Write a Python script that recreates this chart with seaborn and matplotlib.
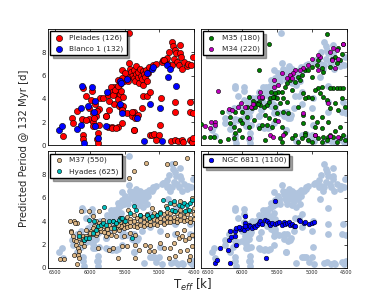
import seaborn as sns
import matplotlib
matplotlib.use('Agg')
import matplotlib.pyplot as plt

# ---- data (Teff [K], predicted period [d]) ----
pleiades_teff = [6390, 6255, 6245, 6185, 6110, 6100, 6100, 6100, 6055, 6005,
                 6005, 5980, 5970, 5955, 5950, 5920, 5910, 5900, 5885, 5870,
                 5860, 5885, 5805, 5765, 5740, 5740, 5680, 5645, 5655, 5620,
                 5600, 5580, 6057, 5938, 5948, 5895, 5870, 5765, 5731, 5700,
                 5680, 5660, 5720, 5640, 5600, 5570, 5550, 5539, 5429, 5443,
                 5683, 5630, 5467, 5371, 5395, 5360, 5539, 5539,
                 5420, 5400, 5390, 5370, 5360, 5350, 5340, 5330, 5310, 5300,
                 5290, 5280, 5270, 5255, 5240, 5230, 5220, 5200, 5190, 5170,
                 5160, 5150, 5470, 5490, 5510, 5530, 5560, 5590, 5600, 5450,
                 5525, 5525, 5530, 5395, 5345, 5250, 5300, 5235, 5180, 5140,
                 4975, 4770, 4770, 4565, 4555, 4985, 5370, 5140, 5110, 5080,
                 5000, 5045, 4830, 4780, 4730, 4680, 4665, 4560, 4530, 4510,
                 5085, 5050, 4965, 4950, 4890, 4860, 4820, 4800, 4780, 4760,
                 4790, 4740, 4720, 4700, 4680, 4640, 4600, 4580, 4870, 4820,
                 4700, 4690, 4515, 4537, 4930, 4510]
pleiades_period = [0.83, 2.40, 1.95, 2.95, 2.30, 4.95, 0.90, 0.55, 4.27, 3.20,
                   2.30, 3.90, 4.65, 2.75, 2.05, 3.60, 2.50, 0.55, 1.05, 3.10,
                   4.05, 0.20, 4.05, 2.55, 1.60, 4.35, 1.60, 3.60, 5.00, 4.45,
                   1.60, 3.35, 2.22, 2.37, 1.71, 2.94, 1.80, 2.56, 3.08, 5.00,
                   4.60, 4.30, 3.85, 4.80, 4.00, 4.40, 4.70, 6.50, 7.07, 9.63,
                   1.50, 1.50, 2.80, 1.37, 2.50, 2.90, 1.94, 3.20,
                   6.60, 6.30, 6.00, 5.80, 6.50, 5.50, 6.10, 6.80, 5.90, 6.30,
                   5.40, 6.60, 6.00, 5.70, 6.40, 5.20, 6.10, 5.90, 6.50, 5.50,
                   6.20, 6.70, 5.90, 6.20, 5.50, 5.80, 5.30, 5.60, 5.10, 5.50,
                   4.20, 3.35, 3.05, 2.90, 2.35, 3.20, 2.60, 4.25, 4.27, 4.60,
                   4.05, 2.90, 3.75, 2.90, 3.75, 1.75, 1.35, 0.90, 0.90, 0.95,
                   0.90, 0.50, 0.40, 0.50, 0.35, 0.45, 0.30, 0.50, 0.30, 0.60,
                   6.90, 7.00, 7.20, 7.30, 7.50, 8.00, 8.90, 8.50, 8.20, 7.90,
                   7.40, 7.20, 6.90, 8.60, 6.60, 7.20, 6.80, 7.00, 7.00, 6.90,
                   7.90, 7.60, 7.60, 6.90, 7.30, 2.80]

blanco_teff = [6440, 6400, 6180, 6125, 6130, 6090, 6030, 5970, 5935, 5920,
               5885, 5765, 5755, 5565, 5565, 5555, 5470, 5180, 5105, 5085,
               4890, 4845, 4880, 4760, 5140, 4990, 5320, 5540, 5225, 4965,
               6110, 5923]
blanco_period = [1.35, 1.70, 1.40, 3.20, 1.80, 0.20, 3.40, 5.05, 2.90, 1.70,
                 0.60, 1.70, 4.55, 5.50, 3.60, 5.40, 5.70, 6.20, 6.60, 6.75,
                 6.90, 6.60, 5.90, 5.10, 3.55, 3.20, 2.40, 2.75, 0.40, 0.35,
                 5.10, 3.79]

m35_teff = [5610, 5755, 6600, 6555, 6460, 6400, 6315, 6205, 6290, 6172,
            6172, 6124, 6110, 6053, 6029, 6005, 5933, 5899, 5837, 5765,
            5717, 5669, 5645, 5621, 5573, 5669, 6110, 6005, 5933, 5861,
            5813, 5789, 5765, 5741, 5717, 5693, 5645, 5621, 5597, 5549,
            5583, 5909, 5851, 5775, 6005, 6124,
            4786, 4546, 4618, 4570, 4666, 4594, 4642, 4714, 4738, 4834,
            4858, 4906, 4930, 5002, 5098, 5146, 5050, 5002, 5194, 5242,
            5314, 5362, 5386, 5434, 5482, 5530, 5506, 5554, 5410, 5458,
            5362, 5290, 5170, 4690, 4642, 4594, 4546, 4738, 4858, 4906,
            4882, 4954, 5002, 5050, 5122, 5098, 4834, 4786, 4738, 4666,
            4618, 4570, 4522, 5530, 5506, 5410, 5338, 5194, 5122, 5002,
            4930, 4858, 4762, 5530, 5434, 5386, 5458, 5434, 5122, 5098,
            4954, 4858, 4762, 4666, 4594, 5242, 5194, 5098, 5050, 4954,
            4906, 4834, 4786, 4738, 4690, 4642, 4594, 4546, 4522, 5146,
            5002, 4858, 5290]
m35_period = [8.70, 6.50, 1.85, 0.75, 0.75, 0.75, 0.35, 0.55, 2.90, 2.48,
              1.91, 1.62, 1.05, 1.34, 2.19, 1.91, 2.48, 1.62, 2.19, 1.48,
              1.77, 2.62, 1.77, 2.34, 1.62, 0.48, 2.90, 2.90, 3.33, 3.19,
              3.33, 3.62, 3.76, 3.48, 4.05, 3.33, 3.48, 3.76, 4.05, 4.19,
              4.62, 4.19, 3.85, 3.56, 0.77, 0.63,
              9.60, 8.74, 8.32, 7.89, 7.60, 7.32, 7.04, 7.46, 6.75, 6.32,
              6.61, 7.32, 6.89, 6.75, 6.46, 6.04, 6.46, 5.90, 5.90, 5.47,
              5.61, 5.33, 5.04, 4.62, 4.62, 4.47, 4.05, 4.19, 4.05, 3.62,
              3.76, 4.76, 5.61, 4.96, 4.96, 4.90, 4.96, 4.96, 5.04, 4.90,
              4.47, 4.76, 4.05, 4.19, 4.47, 4.05, 4.19, 3.90, 3.19, 3.62,
              3.05, 4.05, 3.33, 3.33, 2.76, 2.90, 2.76, 3.33, 2.62, 2.48,
              2.05, 2.48, 2.05, 2.19, 1.62, 1.05, 0.63, 0.34, 1.91, 1.05,
              1.62, 1.48, 0.77, 1.20, 1.62, 0.91, 0.34, 0.91, 0.48, 0.91,
              0.63, 0.77, 0.48, 0.91, 0.77, 0.34, 0.63, 0.91, 0.48, 0.60,
              0.30, 0.30, 0.60]

m34_teff = [6355, 6533, 6446, 6398, 6461, 6389, 6197, 6149, 6062, 6014,
            5957, 5870, 5851, 5765, 5741, 5717, 5909, 5597,
            4546, 4738, 4642, 4690, 4714, 4618, 4882, 4906, 5002, 5050,
            5122, 5170, 5242, 5266, 5314, 5362, 5290, 5434, 5540, 5540,
            5482, 4666, 4906, 4762, 5482, 4954, 4738, 5554, 5410, 4618,
            5122]
m34_period = [4.70, 1.68, 2.05, 2.05, 1.48, 1.77, 3.10, 3.05, 3.33, 3.67,
              3.33, 3.28, 3.56, 4.13, 4.62, 4.19, 0.63, 0.91,
              8.69, 8.03, 8.18, 8.32, 7.32, 7.46, 7.60, 7.75, 7.46, 6.89,
              6.61, 6.46, 6.46, 6.18, 6.04, 5.75, 5.75, 6.18, 5.61, 5.04,
              5.19, 6.61, 6.46, 3.62, 2.14, 0.91, 0.83, 0.77, 0.91, 0.77,
              2.76]

m37_teff = [6427, 6365, 6269, 6221, 6182, 6245, 6221, 6197, 6173, 6149,
            6173, 6125, 6101, 6077, 6149, 6029, 6005, 6221, 6187, 6149,
            6125, 6005, 5957, 5909, 5933, 5885, 5861, 5837, 5813, 5789,
            5765, 5717, 5669, 5621, 5597, 5573, 5765, 5693, 5621, 5861,
            5885, 5717, 5597, 5669, 6053, 5981, 5957, 5837, 5741, 5645,
            5549, 5909, 6077, 6283, 6211, 6268,
            5189, 4891, 4771, 4603, 5371, 5429,
            5563, 5563, 5563, 5515, 5515, 5515, 5467, 5467, 5467, 5419,
            5419, 5419, 5371, 5371, 5371, 5323, 5323, 5323, 5275, 5275,
            5275, 5227, 5227, 5227, 5179, 5179, 5179, 5131, 5131, 5131,
            5083, 5083, 5083, 5035, 5035, 5035, 4987, 4987, 4987, 4939,
            4939, 4939, 4891, 4891, 4891, 4843, 4843, 4843, 4795, 4795,
            4795, 4747, 4747, 4747, 4699, 4699, 4699, 4651, 4651, 4651,
            4603, 4603, 4603, 4555, 4555, 4555, 4507, 4507, 4507,
            5550, 5600, 5650, 5700, 5750, 5800, 5850, 5900, 5950, 6000,
            6050, 6100, 6150, 6200,
            5539, 5467, 5347, 5299, 5203, 5131, 5083, 4987, 4939, 4843,
            4795, 4723, 4675, 4627, 4579, 4531, 4531, 4603, 4699, 4771,
            4867, 5155, 5347, 5419, 5347, 5515, 4555, 4651, 4747, 4579,
            4891, 4795, 4531, 4700, 4900, 5450, 5100]
m37_period = [0.75, 0.75, 3.13, 4.00, 3.85, 2.70, 2.41, 1.98, 1.70, 1.41,
              1.12, 2.13, 2.70, 2.41, 2.99, 2.56, 2.84, 1.12, 0.35, 0.83,
              4.85, 4.85, 4.42, 3.99, 3.56, 3.28, 3.85, 3.71, 4.14, 3.56,
              3.28, 3.71, 3.99, 3.85, 3.42, 3.28, 2.70, 2.84, 2.70, 4.85,
              1.70, 1.55, 0.83, 1.70, 3.28, 3.13, 3.42, 3.13, 2.99, 3.13,
              3.71, 2.84, 1.84, 3.99, 3.85, 3.05,
              8.97, 8.88, 9.02, 9.45, 8.30, 7.73,
              4.30, 3.90, 3.50, 4.10, 3.70, 3.40, 4.40, 3.80, 3.50, 4.20,
              3.90, 3.60, 4.50, 4.00, 3.60, 4.30, 3.80, 3.50, 4.50, 4.10,
              3.70, 4.40, 3.90, 3.60, 4.60, 4.20, 3.80, 4.40, 4.00, 3.70,
              4.70, 4.20, 3.80, 4.50, 4.10, 3.70, 4.80, 4.30, 3.90, 4.60,
              4.20, 3.80, 4.80, 4.40, 3.90, 4.70, 4.30, 3.90, 4.90, 4.40,
              4.00, 4.70, 4.20, 3.90, 5.00, 4.50, 4.10, 4.80, 4.40, 4.00,
              5.00, 4.60, 4.10, 4.90, 4.30, 3.90, 5.10, 4.60, 4.20,
              3.60, 3.70, 3.50, 3.40, 3.30, 3.10, 3.40, 3.00, 2.90, 3.00,
              2.70, 2.50, 2.60, 2.30,
              1.84, 1.84, 1.98, 1.55, 1.98, 1.84, 1.41, 2.13, 1.70, 1.70,
              2.13, 2.56, 2.70, 2.41, 2.56, 2.84, 1.84, 1.55, 1.41, 0.98,
              0.83, 1.41, 0.83, 2.99, 2.84, 2.70, 0.98, 3.28, 2.99, 0.69,
              2.84, 5.50, 6.00, 5.70, 5.30, 5.00, 5.10]

hyades_teff = [5789, 6005, 6077, 6053, 6005, 5957, 5909, 5885, 5837, 5813,
               5765, 5717, 5669, 5621, 5583, 5549, 5645, 6149, 5933,
               5371, 5419, 5333, 5539, 5491, 5179, 5155, 5107, 5035, 4949,
               4843, 4795, 4723, 4675, 4651, 4603, 4555, 4531, 4891, 4819,
               4771, 4627, 4579, 5395, 5275, 4987]
hyades_period = [5.23, 4.08, 2.41, 2.56, 2.56, 2.99, 3.28, 3.56, 3.71, 3.85,
                 3.71, 3.99, 3.99, 3.85, 4.14, 4.28, 3.42, 2.76, 3.99,
                 5.29, 4.71, 5.00, 4.28, 3.99, 4.57, 4.28, 4.42, 4.57, 5.81,
                 5.57, 5.72, 5.43, 5.29, 5.57, 5.43, 5.57, 5.86, 5.14, 5.00,
                 4.85, 4.85, 5.00, 2.56, 4.57, 4.71]

ngc6811_teff = [6398, 6365, 6317, 6206, 6173, 6187, 6158, 6173, 6101, 6091,
                6101, 6091, 6029, 6005, 5981, 5957, 5957, 5933, 5909, 5885,
                5861, 5837, 5813, 5789, 5765, 5741, 5717, 5679, 5645, 5621,
                5597, 5573, 5535, 5501, 5477, 5429, 5405, 5381, 5357, 5333,
                5309, 5285, 5261, 5237, 5189, 5165, 5117, 5093, 5045, 4997,
                4973, 5522, 5656, 5957, 6053]
ngc6811_period = [0.46, 0.69, 1.70, 1.55, 0.46, 2.41, 2.65, 3.13, 3.13, 1.98,
                  2.70, 3.42, 3.33, 3.42, 3.28, 4.42, 3.85, 3.42, 3.71, 3.56,
                  3.42, 3.62, 3.51, 3.71, 3.85, 3.99, 3.79, 4.08, 3.99, 3.85,
                  3.71, 3.85, 3.79, 3.85, 3.91, 3.71, 3.91, 3.79, 3.85, 3.91,
                  3.71, 3.79, 3.62, 3.56, 4.14, 3.99, 3.85, 3.91, 3.79, 3.85,
                  3.91, 5.72, 0.89, 3.56, 3.51]

# background cloud = young clusters (Pleiades + Blanco 1)
bg_teff = pleiades_teff + blanco_teff
bg_period = pleiades_period + blanco_period

sns.set_style('white')
plt.rcParams['font.family'] = ['DejaVu Sans']
plt.rcParams['xtick.direction'] = 'in'
plt.rcParams['ytick.direction'] = 'in'

fig, axes = plt.subplots(2, 2, figsize=(3.85, 2.98), dpi=100, sharex=True, sharey=True)
fig.subplots_adjust(left=0.125, right=0.900, bottom=0.101, top=0.903,
                    wspace=0.045, hspace=0.05)

ec = dict(edgecolor='black', linewidth=0.4)

# top left
ax = axes[0, 0]
sns.scatterplot(x=pleiades_teff, y=pleiades_period, ax=ax, color='red', s=20,
                label='Pleiades (126)', zorder=3, **ec)
sns.scatterplot(x=blanco_teff, y=blanco_period, ax=ax, color='blue', s=20,
                label='Blanco 1 (132)', zorder=3, **ec)

# top right
ax = axes[0, 1]
sns.scatterplot(x=bg_teff, y=bg_period, ax=ax, color='#b0c4de', s=24,
                linewidth=0, zorder=1)
sns.scatterplot(x=m35_teff, y=m35_period, ax=ax, color='green', s=9,
                label='M35 (180)', zorder=3, **ec)
sns.scatterplot(x=m34_teff, y=m34_period, ax=ax, color='m', s=9,
                label='M34 (220)', zorder=3, **ec)

# bottom left
ax = axes[1, 0]
sns.scatterplot(x=bg_teff, y=bg_period, ax=ax, color='#b0c4de', s=24,
                linewidth=0, zorder=1)
sns.scatterplot(x=m37_teff, y=m37_period, ax=ax, color='burlywood', s=9,
                label='M37 (550)', zorder=3, **ec)
sns.scatterplot(x=hyades_teff, y=hyades_period, ax=ax, color='c', s=9,
                label='Hyades (625)', zorder=3, **ec)

# bottom right
ax = axes[1, 1]
sns.scatterplot(x=bg_teff, y=bg_period, ax=ax, color='#b0c4de', s=24,
                linewidth=0, zorder=1)
sns.scatterplot(x=ngc6811_teff, y=ngc6811_period, ax=ax, color='blue', s=11,
                label='NGC 6811 (1100)', zorder=3, **ec)

for ax in axes.flat:
    ax.set_xlim(6600, 4500)
    ax.set_ylim(0, 10)
    ax.set_xticks([6500, 6000, 5500, 5000, 4500])
    ax.set_yticks([0, 2, 4, 6, 8])
    ax.tick_params(axis='both', which='both', top=True, right=True,
                   length=2.5, width=0.5, color='black')
    ax.tick_params(axis='x', labelsize=3.5, pad=1.5)
    ax.tick_params(axis='y', labelsize=5, pad=1.5)
    for sp in ax.spines.values():
        sp.set_color('black')
        sp.set_linewidth(0.6)
    ax.legend(loc='upper left', fontsize=5.3, scatterpoints=1, shadow=True,
              fancybox=False, framealpha=1, edgecolor='black',
              borderpad=0.45, handletextpad=0.7, borderaxespad=0.3,
              labelspacing=0.6, handlelength=1.4)

fig.text(0.062, 0.503, 'Predicted Period @ 132 Myr [d]', rotation=90,
         va='center', ha='center', fontsize=7.3)
fig.text(0.5, 0.045, r'T$_{eff}$ [k]', va='center', ha='center', fontsize=8.5)

fig.savefig('out.png', dpi=100)
